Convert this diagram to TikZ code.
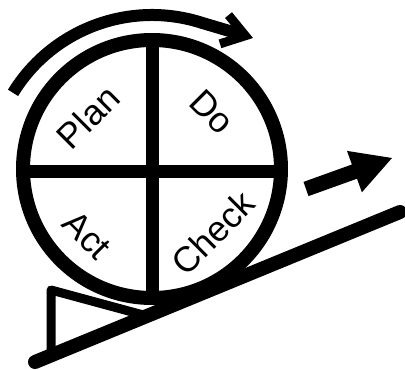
\documentclass[tikz,border=0pt]{standalone}
\usepackage{fontspec}
\setmainfont{Liberation Sans}
\usetikzlibrary{arrows.meta}
\begin{document}
\begin{tikzpicture}[x=1pt,y=1pt,
  ring/.style={line width=14pt},
  bar/.style={line width=13pt},
  ground/.style={line width=14pt, line cap=round},
  chock/.style={line width=9pt, line join=round},
  turn/.style={line width=12pt, -{Straight Barb[length=22pt,width=30pt,line width=9pt]}},
  lbl/.style={font=\fontsize{35.5}{35.5}\selectfont, inner sep=0pt},
]
\useasboundingbox (0,0) rectangle (405,370);
\coordinate (c) at (152,201);
\coordinate (ac) at (152,192);
% ground and chock
\coordinate (g1) at (35,8);
\coordinate (g2) at (400,158);
\coordinate (w1) at (51,80);
\coordinate (w2) at (147,54);
\coordinate (w3) at (51,14);
\draw[chock] (w3) -- (w1) -- (w2);
\draw[ground] (g1) -- (g2);
% wheel
\draw[ring] (c) circle[radius=129];
\coordinate (vt) at (152,330);
\coordinate (vb) at (152,72);
\coordinate (hl) at (23,198.5);
\coordinate (hr) at (281,198.5);
\draw[bar] (vt) -- (vb);
\draw[bar] (hl) -- (hr);
% rotation arrow
\coordinate (tip) at (253,332);
\draw[turn] (ac) ++(148.5:163) arc[start angle=148.5,end angle=72,radius=163] -- (tip);
% forward arrow
\coordinate (a1) at (303.5,188.1);
\coordinate (a2) at (351.9,205.5);
\coordinate (a3) at (347.0,219.1);
\coordinate (a4) at (392,212);
\coordinate (a5) at (361.9,177.7);
\coordinate (a6) at (357.0,191.3);
\coordinate (a7) at (308.5,173.9);
\fill (a1) -- (a2) -- (a3) -- (a4) -- (a5) -- (a6) -- (a7) -- cycle;
% labels
\node[lbl, rotate=45] (plan) at (88,253) {Plan};
\node[lbl, rotate=-45] (do) at (212,258) {Do};
\node[lbl, rotate=-45] (act) at (87,135) {Act};
\node[lbl, rotate=45] (check) at (213,137) {Check};
\end{tikzpicture}
\end{document}
